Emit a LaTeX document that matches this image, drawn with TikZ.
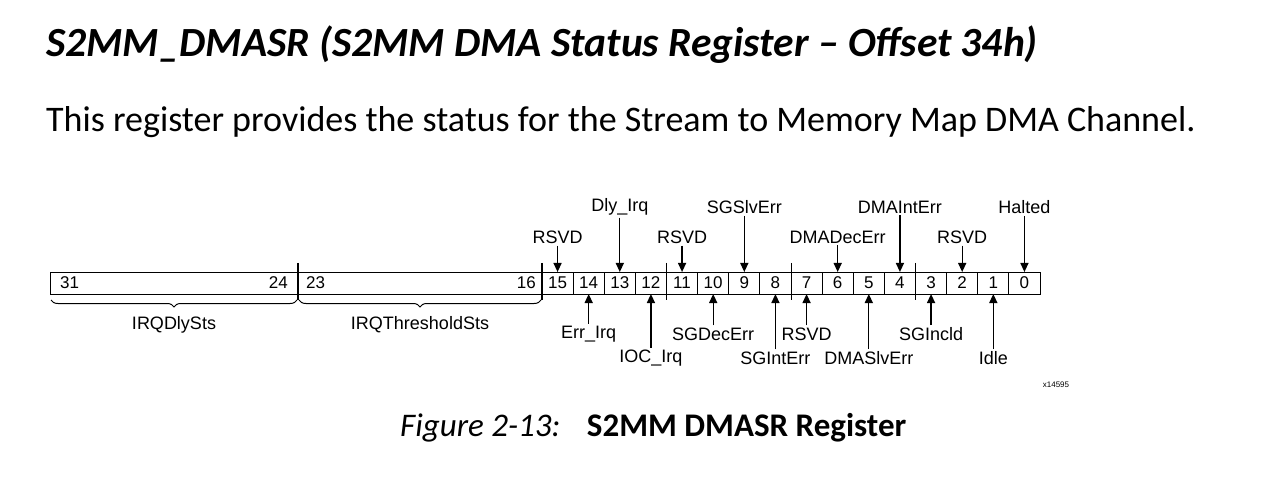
\documentclass[tikz,border=0pt]{standalone}
\usepackage{fontspec}
\setmainfont{Carlito}
\newfontfamily\arl{Liberation Sans}
\usetikzlibrary{decorations.pathreplacing,arrows.meta}
\begin{document}
\begin{tikzpicture}[x=1pt,y=-1pt,
  lab/.style={font=\arl\fontsize{18}{18}\selectfont,inner sep=2pt},
  num/.style={font=\arl\fontsize{17}{17}\selectfont,inner sep=0pt},
  arr/.style={-{Triangle[length=9pt,width=8pt]},line width=1.3pt}]
\useasboundingbox (0,0) rectangle (1280,489);
\node[anchor=west,inner sep=0pt,font=\fontsize{41.5}{41.5}\selectfont\bfseries\itshape] (title) at (46,45) {S2MM\_DMASR (S2MM DMA Status Register – Offset 34h)};
\node[anchor=west,inner sep=0pt,font=\fontsize{36}{36}\selectfont] (sub) at (46,122) {This register provides the status for the Stream to Memory Map DMA Channel.};
\node[anchor=west,inner sep=0pt,font=\fontsize{33}{33}\selectfont] (cap) at (400,428) {\textit{Figure 2-13:}\hspace{0.8em}\textbf{S2MM DMASR Register}};
\node[inner sep=0pt,font=\arl\fontsize{8}{8}\selectfont] (code) at (1056,385) {x14595};
% register
\draw[line width=1pt] (50,272) rectangle (1040,294);
\draw[line width=1.4pt] (298,263) -- (298,300);
\draw[line width=1.4pt] (542,263) -- (542,300);
\node[num,anchor=west] (n31) at (60,283) {31};
\node[num,anchor=east] (n24) at (288,283) {24};
\node[num,anchor=west] (n23) at (306,283) {23};
\node[num,anchor=east] (n16) at (536,283) {16};
\foreach \b in {0,...,15}{
  \pgfmathsetmacro\xl{542+31.125*(15-\b)}
  \pgfmathsetmacro\xc{\xl+15.56}
  \node[num] (b\b) at (\xc,283) {\b};
  \ifnum\b<15 \draw[line width=1pt] (\xl,272) -- (\xl,294);\fi
  \coordinate (t\b) at (\xc,272);
  \coordinate (u\b) at (\xc,294);
}
\foreach \xx in {666.5,791,915.5}{\draw[line width=1pt] (\xx,263) -- (\xx,300);}
\draw[decorate,decoration={brace,mirror,amplitude=7pt},line width=1pt] (51,300) -- (297,300);
\draw[decorate,decoration={brace,mirror,amplitude=7pt},line width=1pt] (299,300) -- (541,300);
\node[lab] (f1) at (174,325) {IRQDlySts};
\node[lab] (f2) at (420,325) {IRQThresholdSts};
% top labels
\foreach \b/\t/\y in {15/RSVD/237,13/Dly\_Irq/207,11/RSVD/237,9/SGSlvErr/207,6/DMADecErr/237,4/DMAIntErr/207,2/RSVD/237,0/Halted/207}{
  \node[lab,anchor=center] (tl\b) at (t\b |- 0,\y) {\t};
  \draw[arr] (tl\b.south -| t\b) -- (t\b);
}
% bottom labels
\foreach \b/\t/\y in {14/Err\_Irq/334,12/IOC\_Irq/358,10/SGDecErr/334,8/SGIntErr/358,7/RSVD/334,5/DMASlvErr/358,3/SGIncld/334,1/Idle/358}{
  \node[lab,anchor=center] (bl\b) at (u\b |- 0,\y) {\t};
  \draw[arr] (bl\b.north -| u\b) -- (u\b);
}
\end{tikzpicture}
\end{document}
